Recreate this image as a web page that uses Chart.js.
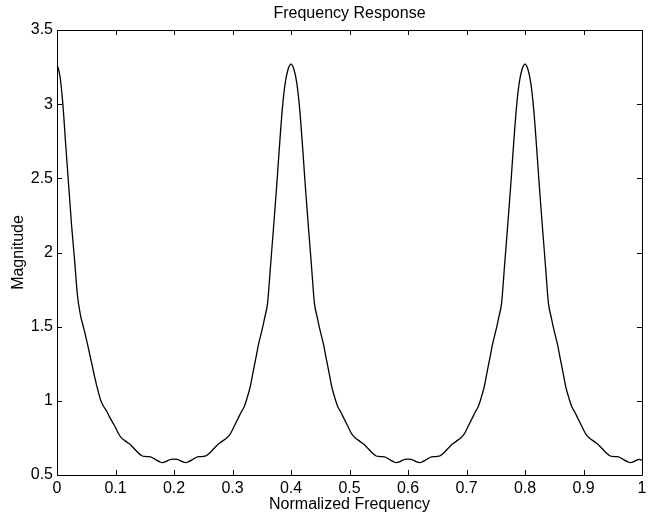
<!DOCTYPE html>
<html>
<head>
<meta charset="utf-8">
<script src="https://cdn.jsdelivr.net/npm/chart.js@4.4.1/dist/chart.umd.min.js"></script>
<style>
  html, body { margin: 0; padding: 0; background: #fff; }
  #wrap { width: 657px; height: 517px; }
</style>
</head>
<body>
<div id="wrap"><canvas id="myChart"></canvas></div>
<script>
const ctx = document.getElementById('myChart');

const magnitude = [
  // 0 .. 0.2
  3.27, 3.19, 3.00, 2.72, 2.45, 2.18, 1.95, 1.71, 1.58, 1.50, 1.42, 1.33, 1.24, 1.15, 1.07, 1.00,
  0.96, 0.93, 0.89, 0.855, 0.82, 0.78, 0.75, 0.735, 0.72, 0.705, 0.685, 0.665, 0.645, 0.63, 0.625,
  0.624, 0.622, 0.612, 0.60, 0.59, 0.583, 0.588, 0.598, 0.605, 0.607,
  // 0.205 .. 0.4
  0.605, 0.598, 0.588, 0.583, 0.59, 0.60, 0.612, 0.622, 0.624, 0.625, 0.63, 0.645, 0.665, 0.685,
  0.705, 0.72, 0.735, 0.75, 0.77, 0.805, 0.845, 0.885, 0.925, 0.96, 1.02, 1.09, 1.19, 1.29, 1.39,
  1.47, 1.56, 1.66, 1.91, 2.16, 2.42, 2.70, 2.96, 3.14, 3.235, 3.27,
  // 0.405 .. 0.6
  3.235, 3.14, 2.96, 2.70, 2.42, 2.16, 1.91, 1.66, 1.56, 1.47, 1.39, 1.29, 1.19, 1.09, 1.02, 0.96,
  0.925, 0.885, 0.845, 0.805, 0.77, 0.75, 0.735, 0.72, 0.705, 0.685, 0.665, 0.645, 0.63, 0.625,
  0.624, 0.622, 0.612, 0.60, 0.59, 0.583, 0.588, 0.598, 0.605, 0.607,
  // 0.605 .. 0.8
  0.605, 0.598, 0.588, 0.583, 0.59, 0.60, 0.612, 0.622, 0.624, 0.625, 0.63, 0.645, 0.665, 0.685,
  0.705, 0.72, 0.735, 0.75, 0.77, 0.805, 0.845, 0.885, 0.925, 0.96, 1.02, 1.09, 1.19, 1.29, 1.39,
  1.47, 1.56, 1.66, 1.91, 2.16, 2.42, 2.70, 2.96, 3.14, 3.235, 3.27,
  // 0.805 .. 1
  3.235, 3.14, 2.96, 2.70, 2.42, 2.16, 1.91, 1.66, 1.56, 1.47, 1.39, 1.29, 1.19, 1.09, 1.02, 0.96,
  0.925, 0.885, 0.845, 0.805, 0.77, 0.75, 0.735, 0.72, 0.705, 0.685, 0.665, 0.645, 0.63, 0.625,
  0.624, 0.622, 0.612, 0.60, 0.59, 0.583, 0.588, 0.598, 0.605, 0.600
];
const freq = magnitude.map((_, i) => +(i * 0.005).toFixed(3));

const xTicks = [0, 0.1, 0.2, 0.3, 0.4, 0.5, 0.6, 0.7, 0.8, 0.9, 1];
const xTickLabels = ['0', '0.1', '0.2', '0.3', '0.4', '0.5', '0.6', '0.7', '0.8', '0.9', '1'];
const yTicks = [0.5, 1, 1.5, 2, 2.5, 3, 3.5];
const yTickLabels = ['0.5', '1', '1.5', '2', '2.5', '3', '3.5'];

Chart.defaults.font.family = "'Liberation Sans', Arial, Helvetica, sans-serif";
Chart.defaults.font.size = 16;
Chart.defaults.color = '#000';

// matlab style box with ticks pointing inward on all four sides
const boxTicks = {
  id: 'boxTicks',
  afterDatasetsDraw(chart) {
    const { ctx, chartArea: a, scales: { x, y } } = chart;
    const len = 5;
    ctx.save();
    ctx.strokeStyle = '#000';
    ctx.lineWidth = 1;
    ctx.beginPath();
    ctx.rect(a.left + 0.5, a.top + 0.5, a.right - a.left, a.bottom - a.top);
    xTicks.forEach(v => {
      const px = Math.round(x.getPixelForValue(v)) + 0.5;
      ctx.moveTo(px, a.bottom); ctx.lineTo(px, a.bottom - len);
      ctx.moveTo(px, a.top); ctx.lineTo(px, a.top + len);
    });
    yTicks.forEach(v => {
      const py = Math.round(y.getPixelForValue(v)) + 0.5;
      ctx.moveTo(a.left, py); ctx.lineTo(a.left + len, py);
      ctx.moveTo(a.right, py); ctx.lineTo(a.right - len, py);
    });
    ctx.stroke();
    ctx.restore();
  }
};

new Chart(ctx, {
  type: 'line',
  data: {
    labels: freq,
    datasets: [{
      data: freq.map((f, i) => ({ x: f, y: magnitude[i] })),
      borderColor: '#000',
      borderWidth: 1.3,
      pointRadius: 0,
      cubicInterpolationMode: 'monotone',
      fill: false
    }]
  },
  options: {
    responsive: true,
    maintainAspectRatio: false,
    animation: false,
    layout: { padding: { left: 0, right: 15, top: 0, bottom: 0 } },
    scales: {
      x: {
        type: 'linear',
        min: 0,
        max: 1,
        afterBuildTicks: scale => { scale.ticks = xTicks.map(v => ({ value: v })); },
        afterFit: scale => { scale.height = 42; },
        ticks: {
          autoSkip: false,
          maxRotation: 0,
          padding: 4,
          callback: (v, i) => xTickLabels[i]
        },
        grid: { display: false, drawTicks: false },
        border: { display: false },
        title: {
          display: true,
          text: 'Normalized Frequency',
          padding: { top: 0, bottom: 2.4 }
        }
      },
      y: {
        min: 0.5,
        max: 3.5,
        afterBuildTicks: scale => { scale.ticks = yTicks.map(v => ({ value: v })); },
        afterFit: scale => { scale.width = 57; },
        ticks: {
          autoSkip: false,
          padding: 4,
          callback: (v, i) => yTickLabels[i]
        },
        grid: { display: false, drawTicks: false },
        border: { display: false },
        title: {
          display: true,
          text: 'Magnitude',
          padding: { top: 9, bottom: 0 }
        }
      }
    },
    plugins: {
      legend: { display: false },
      tooltip: { enabled: false },
      title: {
        display: true,
        fullSize: false,
        text: 'Frequency Response',
        font: { size: 16, weight: 'normal' },
        padding: { top: 4, bottom: 6.8 }
      }
    }
  },
  plugins: [boxTicks]
});
</script>
</body>
</html>
